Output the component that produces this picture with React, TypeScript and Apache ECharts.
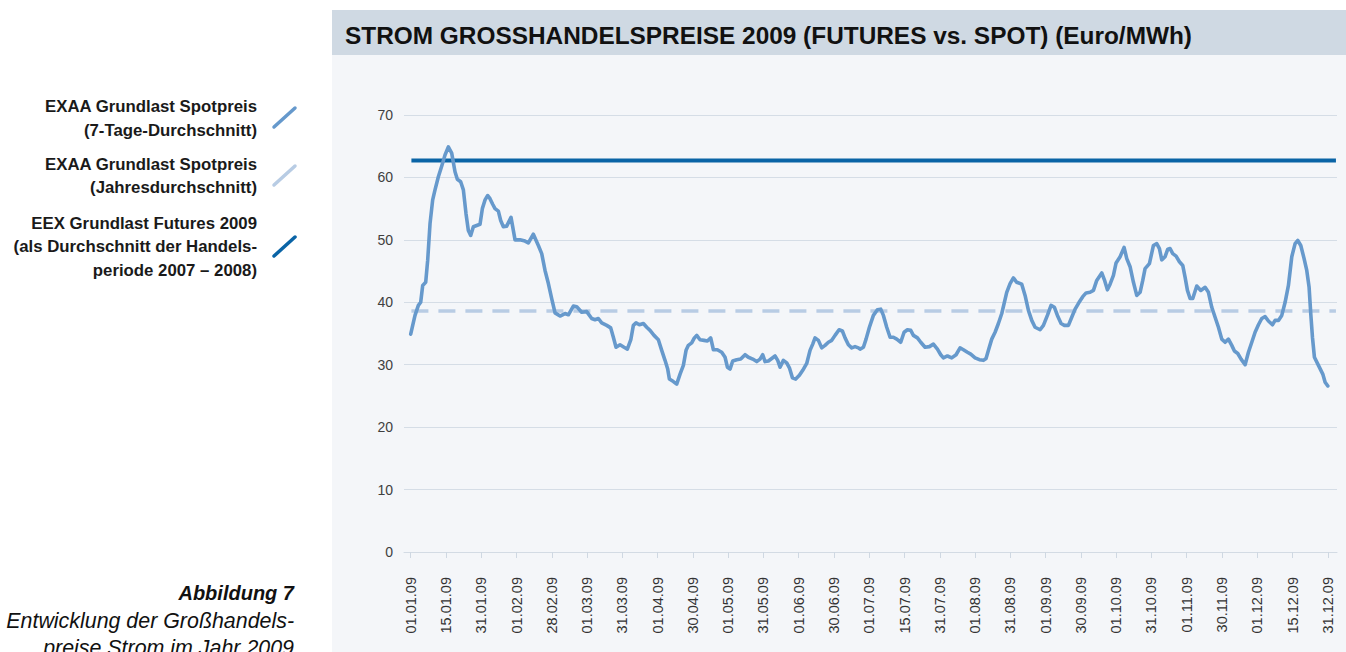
import React, { useEffect, useRef } from "react";
import * as echarts from "echarts";

const xTickLabels = [
  "01.01.09", "15.01.09", "31.01.09", "01.02.09", "28.02.09", "01.03.09", "31.03.09",
  "01.04.09", "30.04.09", "01.05.09", "31.05.09", "01.06.09", "30.06.09", "01.07.09",
  "15.07.09", "31.07.09", "01.08.09", "31.08.09", "01.09.09", "30.09.09", "01.10.09",
  "31.10.09", "01.11.09", "30.11.09", "01.12.09", "15.12.09", "31.12.09",
];

// position along the label axis (0 = first label, 26 = last label)
const spotPos = [
  0, 0.122, 0.217, 0.283, 0.34, 0.425, 0.481, 0.548, 0.623, 0.689, 0.784, 0.878, 0.973, 1.067,
  1.162, 1.256, 1.322, 1.417, 1.493, 1.568, 1.634, 1.701, 1.776, 1.965, 2.031, 2.107, 2.183,
  2.248, 2.324, 2.39, 2.485, 2.551, 2.627, 2.721, 2.844, 2.958, 3.099, 3.241, 3.336, 3.477,
  3.619, 3.714, 3.808, 3.903, 3.997, 4.092, 4.233, 4.375, 4.47, 4.611, 4.706, 4.848, 4.99,
  5.131, 5.226, 5.32, 5.415, 5.557, 5.67, 5.745, 5.821, 5.934, 6.048, 6.142, 6.24,
  6.312, 6.388, 6.483, 6.596, 6.691, 6.785, 6.898, 7.021, 7.116, 7.21, 7.286, 7.333, 7.447,
  7.541, 7.636, 7.73, 7.806, 7.872, 7.966, 8.042, 8.108, 8.203, 8.316, 8.411, 8.505, 8.581,
  8.694, 8.817, 8.912, 8.978, 9.053, 9.129, 9.242, 9.356, 9.479, 9.573, 9.696, 9.809, 9.904,
  9.98, 10.046, 10.14, 10.235, 10.329, 10.405, 10.471, 10.565, 10.66, 10.736, 10.821, 10.915,
  11.019, 11.114, 11.227, 11.321, 11.397, 11.463, 11.558, 11.652, 11.747, 11.841, 11.936,
  12.03, 12.144, 12.238, 12.314, 12.408, 12.503, 12.597, 12.692,
  12.739, 12.834, 12.909, 13.004, 13.117, 13.23, 13.325, 13.401, 13.495, 13.59, 13.684,
  13.779, 13.892, 13.987, 14.081, 14.176, 14.251, 14.365, 14.459, 14.582, 14.705, 14.818,
  14.932, 15.026, 15.102, 15.215, 15.338, 15.461, 15.574, 15.669, 15.782, 15.877, 16.0,
  16.122, 16.236, 16.311, 16.378, 16.472, 16.567, 16.661, 16.756, 16.822, 16.897, 16.992,
  17.086, 17.181, 17.323, 17.417, 17.512, 17.606, 17.701, 17.843, 17.937, 18.05, 18.154,
  18.249, 18.334, 18.438, 18.532, 18.646, 18.74, 18.835, 18.948, 19.052, 19.147, 19.26,
  19.355, 19.449, 19.591, 19.666, 19.751, 19.827, 19.922, 19.997, 20.111, 20.224, 20.3,
  20.394, 20.489, 20.583, 20.678, 20.753, 20.819, 20.942, 21.056, 21.15, 21.226, 21.292,
  21.386, 21.462, 21.528, 21.604, 21.698, 21.793, 21.887, 21.954, 22.02, 22.095, 22.171,
  22.284, 22.398, 22.521, 22.615, 22.71, 22.804, 22.899, 22.993, 23.088, 23.182, 23.277,
  23.352, 23.447, 23.541, 23.655, 23.749, 23.844, 23.938, 24.033, 24.127, 24.222, 24.316,
  24.43, 24.505, 24.6, 24.694, 24.789, 24.883, 24.978, 25.072, 25.148, 25.233, 25.327,
  25.403, 25.469, 25.516, 25.564, 25.62, 25.734, 25.857, 25.923, 26.0,
];

// EXAA Grundlast Spotpreis, 7-Tage-Durchschnitt (Euro/MWh)
const spotPrice = [
  34.9, 37.9, 39.5, 40.0, 42.7, 43.2, 46.7, 52.6, 56.4, 58.0, 60.1, 61.8, 63.6, 64.9,
  63.9, 60.9, 59.7, 59.3, 58.0, 54.2, 51.5, 50.7, 52.1, 52.5, 55.0, 56.4, 57.1,
  56.6, 55.7, 55.0, 54.6, 53.1, 52.1, 52.2, 53.6, 50.0, 50.0, 49.8, 49.5, 50.9,
  49.1, 47.8, 45.1, 43.0, 40.6, 38.3, 37.8, 38.2, 38.0, 39.4, 39.3, 38.4, 38.5,
  37.4, 37.2, 37.4, 36.7, 36.3, 35.9, 34.4, 32.8, 33.2, 32.8, 32.5, 34.0,
  36.3, 36.7, 36.4, 36.6, 36.0, 35.5, 34.7, 34.0, 32.3, 30.7, 29.3, 27.7, 27.3,
  26.9, 28.5, 29.9, 32.3, 33.1, 33.5, 34.3, 34.7, 34.0, 33.9, 33.8, 34.3, 32.4,
  32.4, 32.0, 31.2, 29.6, 29.3, 30.6, 30.8, 30.9, 31.6, 31.2, 30.9, 30.5, 30.9,
  31.6, 30.5, 30.6, 31.0, 31.4, 30.7, 29.6, 30.7, 30.3, 29.5, 27.9, 27.7,
  28.3, 29.1, 30.2, 32.3, 33.3, 34.3, 33.9, 32.7, 33.1, 33.6, 33.9,
  34.7, 35.6, 35.4, 34.3, 33.2, 32.7, 32.9, 32.7,
  32.5, 32.8, 34.1, 36.0, 37.9, 38.8, 38.9, 37.9, 36.0, 34.4, 34.4,
  34.1, 33.6, 35.2, 35.6, 35.5, 34.7, 34.3, 33.6, 32.8, 32.9, 33.3,
  32.5, 31.6, 31.1, 31.4, 31.1, 31.6, 32.7, 32.4, 32.0, 31.7, 31.1,
  30.8, 30.7, 31.0, 32.3, 34.1, 35.2, 36.6, 38.2, 39.8, 41.6, 43.0,
  43.9, 43.2, 42.9, 41.1, 38.7, 37.1, 36.0, 35.6, 36.3, 37.9, 39.5,
  39.2, 37.9, 36.6, 36.3, 36.3, 37.6, 38.9, 40.0, 40.9, 41.5, 41.6,
  41.9, 43.5, 44.7, 43.6, 42.0, 42.9, 44.3, 46.3, 47.3, 48.8, 47.0,
  45.7, 43.2, 41.1, 41.6, 43.5, 45.4, 46.2, 49.1, 49.4, 48.6, 46.8,
  47.3, 48.5, 48.6, 47.8, 47.4, 46.5, 45.9, 44.0, 41.9, 40.6, 40.6,
  42.6, 41.9, 42.4, 41.6, 39.2, 37.6, 36.0, 34.1, 33.6, 34.1, 33.1,
  32.2, 31.8, 30.9, 30.0, 32.0, 33.6, 35.2, 36.4, 37.4, 37.7, 37.0,
  36.4, 37.1, 37.1, 37.9, 40.0, 42.7, 47.3, 49.4, 49.9, 49.1, 47.0,
  45.1, 42.4, 38.2, 34.4, 31.2, 29.9, 28.5, 27.2, 26.6,
];

const spotYearAverage = 38.6; // EXAA Jahresdurchschnitt
const futuresAverage = 62.7; // EEX Futures 2009
const refLineStart = 0.02;
const refLineEnd = 26.23;

const yMin = 0;
const yMax = 70;
const yStep = 10;

const titleText = "STROM GROSSHANDELSPREISE 2009 (FUTURES vs. SPOT) (Euro/MWh)";
const legendEntries = [
  { lines: ["EXAA Grundlast Spotpreis", "(7-Tage-Durchschnitt)"], color: "#6699cc" },
  { lines: ["EXAA Grundlast Spotpreis", "(Jahresdurchschnitt)"], color: "#b8cce4" },
  {
    lines: ["EEX Grundlast Futures 2009", "(als Durchschnitt der Handels-", "periode 2007 – 2008)"],
    color: "#0a64a6",
  },
];
const captionTitle = "Abbildung 7";
const captionLines = ["Entwicklung der Großhandels-", "preise Strom im Jahr 2009"];

const FONT = "'Liberation Sans', Arial, sans-serif";

export default function App() {
  const ref = useRef<HTMLDivElement>(null);

  useEffect(() => {
    const chart = echarts.init(ref.current!, null, { renderer: "svg" });
    const tickIdx = xTickLabels.map((_, i) => i);

    const legendBaselines = [[112.7, 136.7], [170, 193.5], [229, 252.5, 276]];
    const legendIcons = [
      [274, 127, 295, 108],
      [274, 185, 295, 166],
      [274, 256, 295, 237],
    ];

    const graphics: any[] = [
      { type: "rect", z: -100, silent: true, shape: { x: 332, y: 55, width: 1014, height: 597 }, style: { fill: "#f4f6f9" } },
      { type: "rect", z: -100, silent: true, shape: { x: 332, y: 10, width: 1014, height: 45 }, style: { fill: "#cfd9e3" } },
      {
        type: "text", x: 345, y: 35.5,
        style: { text: titleText, fill: "#111", font: `bold 24.4px ${FONT}`, verticalAlign: "middle", align: "left" },
      },
    ];
    legendEntries.forEach((entry, i) => {
      entry.lines.forEach((ln, j) => {
        graphics.push({
          type: "text", x: 257, y: legendBaselines[i][j] - 5.9,
          style: { text: ln, fill: "#1a1a1a", font: `bold 16.8px ${FONT}`, align: "right", verticalAlign: "middle" },
        });
      });
      const [x1, y1, x2, y2] = legendIcons[i];
      graphics.push({
        type: "line", shape: { x1, y1, x2, y2 },
        style: { stroke: entry.color, lineWidth: 3.5, lineCap: "round" },
      });
    });
    graphics.push({
      type: "text", x: 294, y: 593,
      style: { text: captionTitle, fill: "#111", font: `italic bold 20px ${FONT}`, align: "right", verticalAlign: "middle" },
    });
    captionLines.forEach((ln, j) => {
      graphics.push({
        type: "text", x: 294, y: 620.6 + j * 27,
        style: { text: ln, fill: "#111", font: `italic 21.4px ${FONT}`, align: "right", verticalAlign: "middle" },
      });
    });

    chart.setOption({
      animation: false,
      backgroundColor: "#ffffff",
      textStyle: { fontFamily: FONT },
      grid: { left: 404, right: 9, top: 115, bottom: 100, containLabel: false },
      xAxis: {
        type: "value",
        min: -0.19,
        max: 26.26,
        axisLine: { show: true, lineStyle: { color: "#d3dbe4", width: 1 } },
        axisTick: { show: true, customValues: tickIdx, length: 6, lineStyle: { color: "#cfd8e2" } },
        axisLabel: {
          customValues: tickIdx,
          rotate: 90,
          margin: 25,
          fontSize: 14.5,
          color: "#333",
          fontFamily: FONT,
          formatter: (v: number) => xTickLabels[Math.round(v)] ?? "",
        },
        splitLine: { show: false },
      },
      yAxis: {
        type: "value",
        min: yMin,
        max: yMax,
        interval: yStep,
        axisLine: { show: false },
        axisTick: { show: false },
        axisLabel: { fontSize: 14, color: "#404040", margin: 11, fontFamily: FONT },
        splitLine: { lineStyle: { color: "#d5dde6", width: 1 } },
      },
      series: [
        {
          type: "line",
          data: [[refLineStart, spotYearAverage], [refLineEnd, spotYearAverage]],
          symbol: "none",
          lineStyle: { color: "#b8cce4", width: 3.5, type: [17, 10] },
          z: 2,
        },
        {
          type: "line",
          data: [[refLineStart, futuresAverage], [refLineEnd, futuresAverage]],
          symbol: "none",
          lineStyle: { color: "#0a64a6", width: 4 },
          z: 3,
        },
        {
          type: "line",
          data: spotPos.map((x, i) => [x, spotPrice[i]]),
          symbol: "none",
          lineStyle: { color: "#6699cc", width: 3.6, join: "round", cap: "round" },
          z: 4,
        },
      ],
      graphic: graphics,
    });
    return () => chart.dispose();
  }, []);

  return (
    <div
      ref={ref}
      style={{ position: "fixed", left: 0, top: 0, width: 1346, height: 652, background: "#fff" }}
    />
  );
}
